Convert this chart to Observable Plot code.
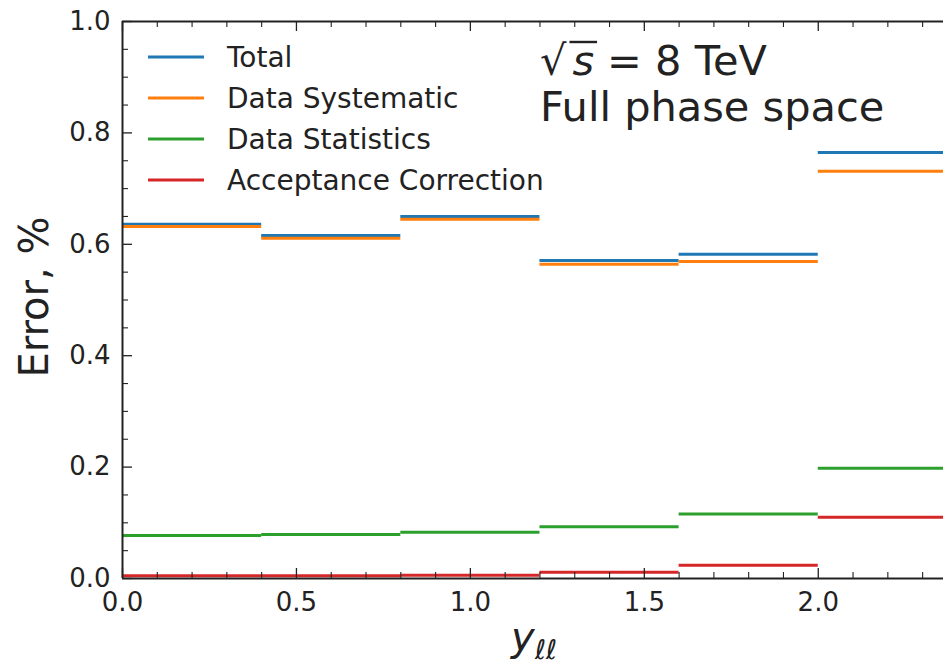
<!DOCTYPE html>
<html><head><meta charset="utf-8">
<script src="https://cdn.jsdelivr.net/npm/d3@7"></script>
<script src="https://cdn.jsdelivr.net/npm/@observablehq/plot@0.6"></script>
<style>
body{margin:0;background:#fff}
svg text{font-family:"DejaVu Sans",sans-serif}
</style>
</head><body><div id="chart"></div>
<script>
// ---- data ----
const binEdges = [0, 0.4, 0.8, 1.2, 1.6, 2.0, 2.4];
const seriesNames = ["Total", "Data Systematic", "Data Statistics", "Acceptance Correction"];
const seriesColors = ["#1f77b4", "#ff7f0e", "#2ca02c", "#d62728"];
const totalErr      = [0.636, 0.616, 0.650, 0.571, 0.582, 0.765];
const systematicErr = [0.632, 0.611, 0.645, 0.564, 0.569, 0.731];
const statisticsErr = [0.077, 0.079, 0.083, 0.093, 0.116, 0.198];
const acceptanceErr = [0.005, 0.005, 0.006, 0.011, 0.024, 0.110];
const xMajorTicks = [0, 0.5, 1.0, 1.5, 2.0];
const xMinorTicks = [0.1,0.2,0.3,0.4,0.6,0.7,0.8,0.9,1.1,1.2,1.3,1.4,1.6,1.7,1.8,1.9,2.1,2.2,2.3];
const yMajorTicks = [0, 0.2, 0.4, 0.6, 0.8, 1.0];
const yMinorTicks = [0.05,0.1,0.15,0.25,0.3,0.35,0.45,0.5,0.55,0.65,0.7,0.75,0.85,0.9,0.95];
const xLabel = "y", xLabelSub = "ℓℓ";
const yLabel = "Error, %";
const energyText = "= 8 TeV";
const phaseText = "Full phase space";

const valuesBySeries = [totalErr, systematicErr, statisticsErr, acceptanceErr];
const rows = [];
seriesNames.forEach((s, i) => {
  valuesBySeries[i].forEach((v, j) => rows.push({series: s, x1: binEdges[j], x2: binEdges[j + 1], v}));
});

// ---- layout ----
const W = 943, H = 666, mL = 122, mR = 0, mT = 21, mB = 88;
const iw = W - mL - mR, ih = H - mT - mB;
const ink = "#222";
const fmt = d3.format(".1f");

const plot = Plot.plot({
  width: W, height: H,
  marginLeft: mL, marginRight: mR, marginTop: mT, marginBottom: mB,
  x: {domain: [0, 2.36], label: null},
  y: {domain: [0, 1], label: null},
  color: {domain: seriesNames, range: seriesColors},
  style: {fontFamily: "DejaVu Sans", color: ink, background: "white", overflow: "visible"},
  marks: [
    Plot.ruleY(rows, {y: "v", x1: "x1", x2: "x2", stroke: "series", strokeWidth: 3, clip: true}),
    Plot.axisX(xMajorTicks, {tickSize: 0, tickPadding: 14, tickFormat: fmt, fontSize: 26, label: null}),
    Plot.axisY(yMajorTicks, {tickSize: 0, tickPadding: 12, tickFormat: fmt, fontSize: 26, label: null}),
    // inward ticks: bottom, top, left
    Plot.tickX(xMajorTicks, {x: d => d, insetTop: ih - 10, stroke: ink, strokeWidth: 1.3}),
    Plot.tickX(xMinorTicks, {x: d => d, insetTop: ih - 6, stroke: ink, strokeWidth: 1.1}),
    Plot.tickX(xMajorTicks, {x: d => d, insetBottom: ih - 10, stroke: ink, strokeWidth: 1.3}),
    Plot.tickX(xMinorTicks, {x: d => d, insetBottom: ih - 6, stroke: ink, strokeWidth: 1.1}),
    Plot.tickY(yMajorTicks, {y: d => d, insetRight: iw - 10, stroke: ink, strokeWidth: 1.3}),
    Plot.tickY(yMinorTicks, {y: d => d, insetRight: iw - 6, stroke: ink, strokeWidth: 1.1}),
    Plot.ruleX([0], {stroke: ink, strokeWidth: 2}),
    Plot.ruleY([0, 1], {stroke: ink, strokeWidth: 2}),
    Plot.text([yLabel], {text: d => d, frameAnchor: "left", textAnchor: "middle", dx: -(mL - 47), dy: -3,
      rotate: -90, fontSize: 40, lineAnchor: "bottom", fill: ink})
  ]
});
document.getElementById("chart").appendChild(plot);

const svg = d3.select(plot);
// legend
const leg = svg.append("g").attr("text-anchor", "start");
seriesNames.forEach((s, i) => {
  const y = 57 + i * 41;
  leg.append("line").attr("x1", 148).attr("x2", 204).attr("y1", y).attr("y2", y)
    .attr("stroke", seriesColors[i]).attr("stroke-width", 3);
  leg.append("text").attr("x", 227).attr("y", y).attr("dy", "0.36em")
    .attr("font-size", 28).attr("fill", ink).text(s);
});

// annotation: sqrt(s) = 8 TeV
const ann = svg.append("text").attr("text-anchor", "start").attr("x", 540).attr("y", 75)
  .attr("font-size", 41.5).attr("fill", ink);
ann.append("tspan").text("√");
ann.append("tspan").attr("font-style", "italic").attr("dx", 6).text("s");
ann.append("tspan").attr("dx", 13).text(energyText);
const tnode = ann.node();
const sx0 = tnode.getStartPositionOfChar(1).x;
const sx1 = tnode.getEndPositionOfChar(1).x;
svg.append("line").attr("x1", sx0 - 3).attr("x2", sx1 + 3).attr("y1", 42).attr("y2", 42)
  .attr("stroke", ink).attr("stroke-width", 2.4);
svg.append("text").attr("text-anchor", "start").attr("x", 540).attr("y", 121)
  .attr("font-size", 41.5).attr("fill", ink).text(phaseText);

// x label
const xl = svg.append("text").attr("text-anchor", "start").attr("x", 511).attr("y", 651).attr("fill", ink);
xl.append("tspan").attr("font-size", 40).attr("font-style", "italic").text(xLabel);
xl.append("tspan").attr("font-size", 27).attr("font-style", "italic").attr("dy", 8).text(xLabelSub);
</script>
</body></html>
